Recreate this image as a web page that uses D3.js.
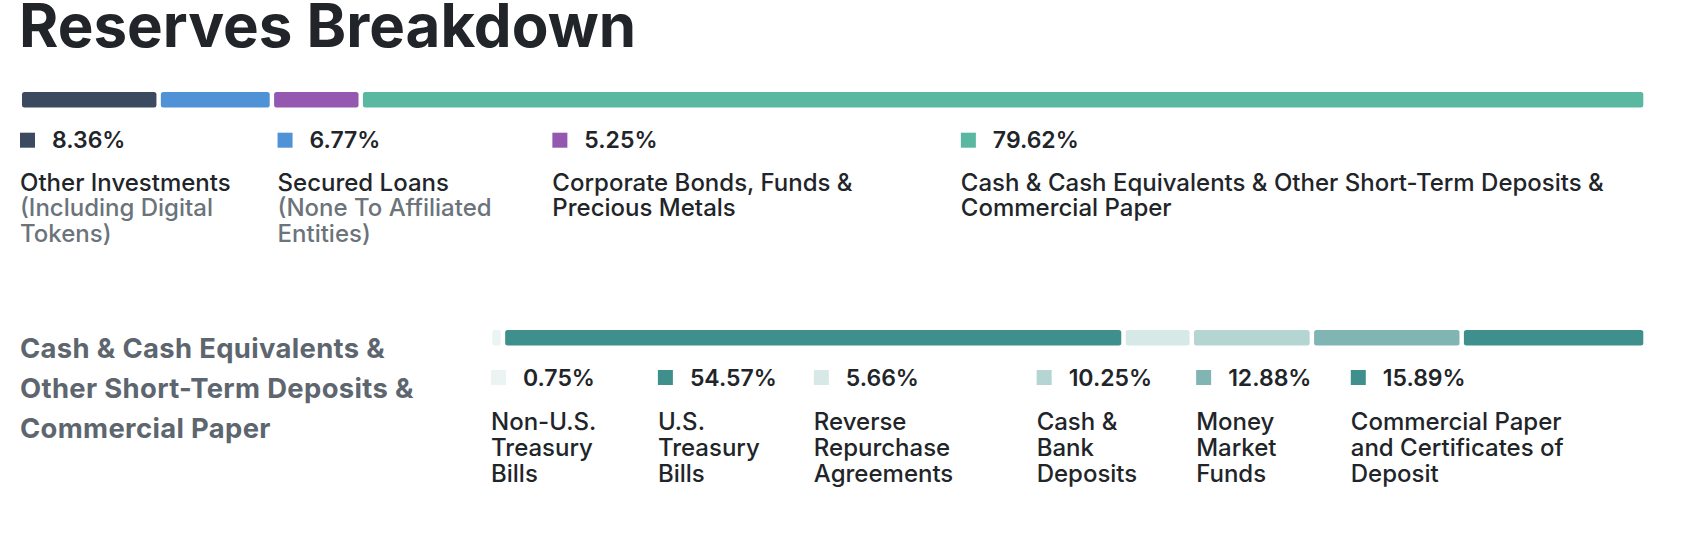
<!DOCTYPE html>
<html>
<head>
<meta charset="utf-8">
<script src="https://cdn.jsdelivr.net/npm/d3@7"></script>
<style>
  html, body { margin: 0; padding: 0; background: #ffffff; overflow: hidden; }
  svg text { font-family: Inter, "Noto Sans", "DejaVu Sans", sans-serif; }
</style>
</head>
<body>
<svg id="chart" width="1706" height="534"></svg>
<script>
// ---------------- DATA ----------------
const chartTitle = "Reserves Breakdown";

const mainCategories = [
  "Other Investments",
  "Secured Loans",
  "Corporate Bonds, Funds & Precious Metals",
  "Cash & Cash Equivalents & Other Short-Term Deposits & Commercial Paper"
];
const mainValues = [8.36, 6.77, 5.25, 79.62];
const mainLabelLines = [
  ["Other Investments"],
  ["Secured Loans"],
  ["Corporate Bonds, Funds &", "Precious Metals"],
  ["Cash & Cash Equivalents & Other Short-Term Deposits &", "Commercial Paper"]
];
const mainNoteLines = [
  ["(Including Digital", "Tokens)"],
  ["(None To Affiliated", "Entities)"],
  [],
  []
];

const subTitleLines = ["Cash & Cash Equivalents &", "Other Short-Term Deposits &", "Commercial Paper"];
const subCategories = [
  "Non-U.S. Treasury Bills",
  "U.S. Treasury Bills",
  "Reverse Repurchase Agreements",
  "Cash & Bank Deposits",
  "Money Market Funds",
  "Commercial Paper and Certificates of Deposit"
];
const subValues = [0.75, 54.57, 5.66, 10.25, 12.88, 15.89];
const subLabelLines = [
  ["Non-U.S.", "Treasury", "Bills"],
  ["U.S.", "Treasury", "Bills"],
  ["Reverse", "Repurchase", "Agreements"],
  ["Cash &", "Bank", "Deposits"],
  ["Money", "Market", "Funds"],
  ["Commercial Paper", "and Certificates of", "Deposit"]
];

// ---------------- STYLE / LAYOUT ----------------
const mainColors = ["#3b4a5e", "#4f92d6", "#9458b1", "#5ab8a0"];
const subColors  = ["#ebf4f2", "#3f8f8c", "#d6e9e6", "#b5d5d3", "#80b5b4", "#3f8f8c"];

const style = {
  titleSize: 60, titleWeight: 700, titleColor: "#212529",
  pctSize: 23, pctWeight: 600, pctColor: "#212529",
  labelSize: 24, labelWeight: 500, labelColor: "#212529", noteColor: "#6b737b",
  subTitleSize: 27.4, subTitleWeight: 700, subTitleColor: "#5d666e",
  barH: 15.5, barGap: 4.4, barR: 2.5,
  swatch: 15, pctOffset: 32, itemMargin: 37, lineH: 25.8
};

const W = 1706, H = 534;
const svg = d3.select("#chart").attr("width", W).attr("height", H);

// ---------- text measuring ----------
const meas = svg.append("text").attr("x", -9999).attr("y", -9999);
function textW(str, size, weight) {
  meas.attr("font-size", size).attr("font-weight", weight).text(str);
  return meas.node().getComputedTextLength();
}

// ---------- title ----------
svg.append("text")
  .attr("x", 19).attr("y", 47)
  .attr("font-size", style.titleSize)
  .attr("font-weight", style.titleWeight)
  .attr("fill", style.titleColor)
  .text(chartTitle);

// ---------- stacked bar ----------
function drawBar(values, colors, x0, x1, y) {
  const n = values.length;
  const total = d3.sum(values);
  const x = d3.scaleLinear().domain([0, total]).range([0, (x1 - x0) - style.barGap * (n - 1)]);
  const starts = [0, ...d3.cumsum(values)].slice(0, n);
  svg.append("g").selectAll("rect")
    .data(values)
    .join("rect")
    .attr("x", (d, i) => x0 + x(starts[i]) + i * style.barGap)
    .attr("y", y)
    .attr("width", d => x(d))
    .attr("height", style.barH)
    .attr("rx", style.barR)
    .attr("fill", (d, i) => colors[i]);
}

// ---------- flex-like legend ----------
function flexLayout(items, left, right, margin) {
  const avail = right - left;
  const widths = items.map(d => d.basis);
  const frozen = items.map(() => false);
  for (let iter = 0; iter < 10; iter++) {
    const fixed = d3.sum(items, (d, i) => frozen[i] ? widths[i] : 0) + margin * items.length;
    const freeBasis = d3.sum(items, (d, i) => frozen[i] ? 0 : d.basis);
    const r = Math.min(1, (avail - fixed) / freeBasis);
    let changed = false;
    items.forEach((d, i) => {
      if (frozen[i]) return;
      widths[i] = d.basis * r;
      if (widths[i] < d.min) { widths[i] = d.min; frozen[i] = true; changed = true; }
    });
    if (!changed) break;
  }
  let x = left;
  return widths.map(w => { const p = x; x += w + margin; return p; });
}

function drawLegend(values, colors, labelLines, noteLines, left, right, yTop, firstLine) {
  const items = values.map((v, i) => {
    const pctW = style.pctOffset + textW(v.toFixed(2) + "%", style.pctSize, style.pctWeight);
    const lab = labelLines[i].join(" ");
    const note = (noteLines[i] || []).join(" ");
    const words = (lab + " " + note).split(/\s+/).filter(Boolean);
    const maxC = Math.max(pctW, textW(lab, style.labelSize, style.labelWeight),
                          note ? textW(note, style.labelSize, style.labelWeight) : 0);
    const minC = Math.max(pctW, d3.max(words, w => textW(w, style.labelSize, style.labelWeight)));
    return { basis: maxC, min: minC };
  });
  const xs = flexLayout(items, left, right, style.itemMargin);

  const g = svg.append("g");
  const item = g.selectAll("g.item").data(values).join("g")
    .attr("class", "item")
    .attr("transform", (d, i) => `translate(${xs[i]},${yTop})`);

  item.append("rect")
    .attr("x", 0).attr("y", 0)
    .attr("width", style.swatch).attr("height", style.swatch)
    .attr("fill", (d, i) => colors[i]);

  item.append("text")
    .attr("x", style.pctOffset).attr("y", 15.6)
    .attr("font-size", style.pctSize).attr("font-weight", style.pctWeight)
    .attr("fill", style.pctColor)
    .text(d => d.toFixed(2) + "%");

  item.each(function (d, i) {
    const lines = labelLines[i].map(t => ({ t, c: style.labelColor }))
      .concat((noteLines[i] || []).map(t => ({ t, c: style.noteColor })));
    d3.select(this).selectAll("text.lab").data(lines).join("text")
      .attr("class", "lab")
      .attr("x", 0)
      .attr("y", (l, j) => firstLine + j * style.lineH)
      .attr("font-size", style.labelSize)
      .attr("font-weight", style.labelWeight)
      .attr("fill", l => l.c)
      .text(l => l.t);
  });
}

// ---------- section 1 ----------
drawBar(mainValues, mainColors, 22, 1643.3, 92);
drawLegend(mainValues, mainColors, mainLabelLines, mainNoteLines, 20, 1650, 132.7, 58);

// ---------- section 2 ----------
svg.append("g").selectAll("text")
  .data(subTitleLines).join("text")
  .attr("x", 20)
  .attr("y", (d, i) => 357.5 + i * 40.3)
  .attr("font-size", style.subTitleSize)
  .attr("font-weight", style.subTitleWeight)
  .attr("letter-spacing", 0.35)
  .attr("fill", style.subTitleColor)
  .text(d => d);

drawBar(subValues, subColors, 492.3, 1643.3, 330);
drawLegend(subValues, subColors, subLabelLines, subLabelLines.map(() => []), 491, 1643.3, 370, 60);

meas.remove();
</script>
</body>
</html>
